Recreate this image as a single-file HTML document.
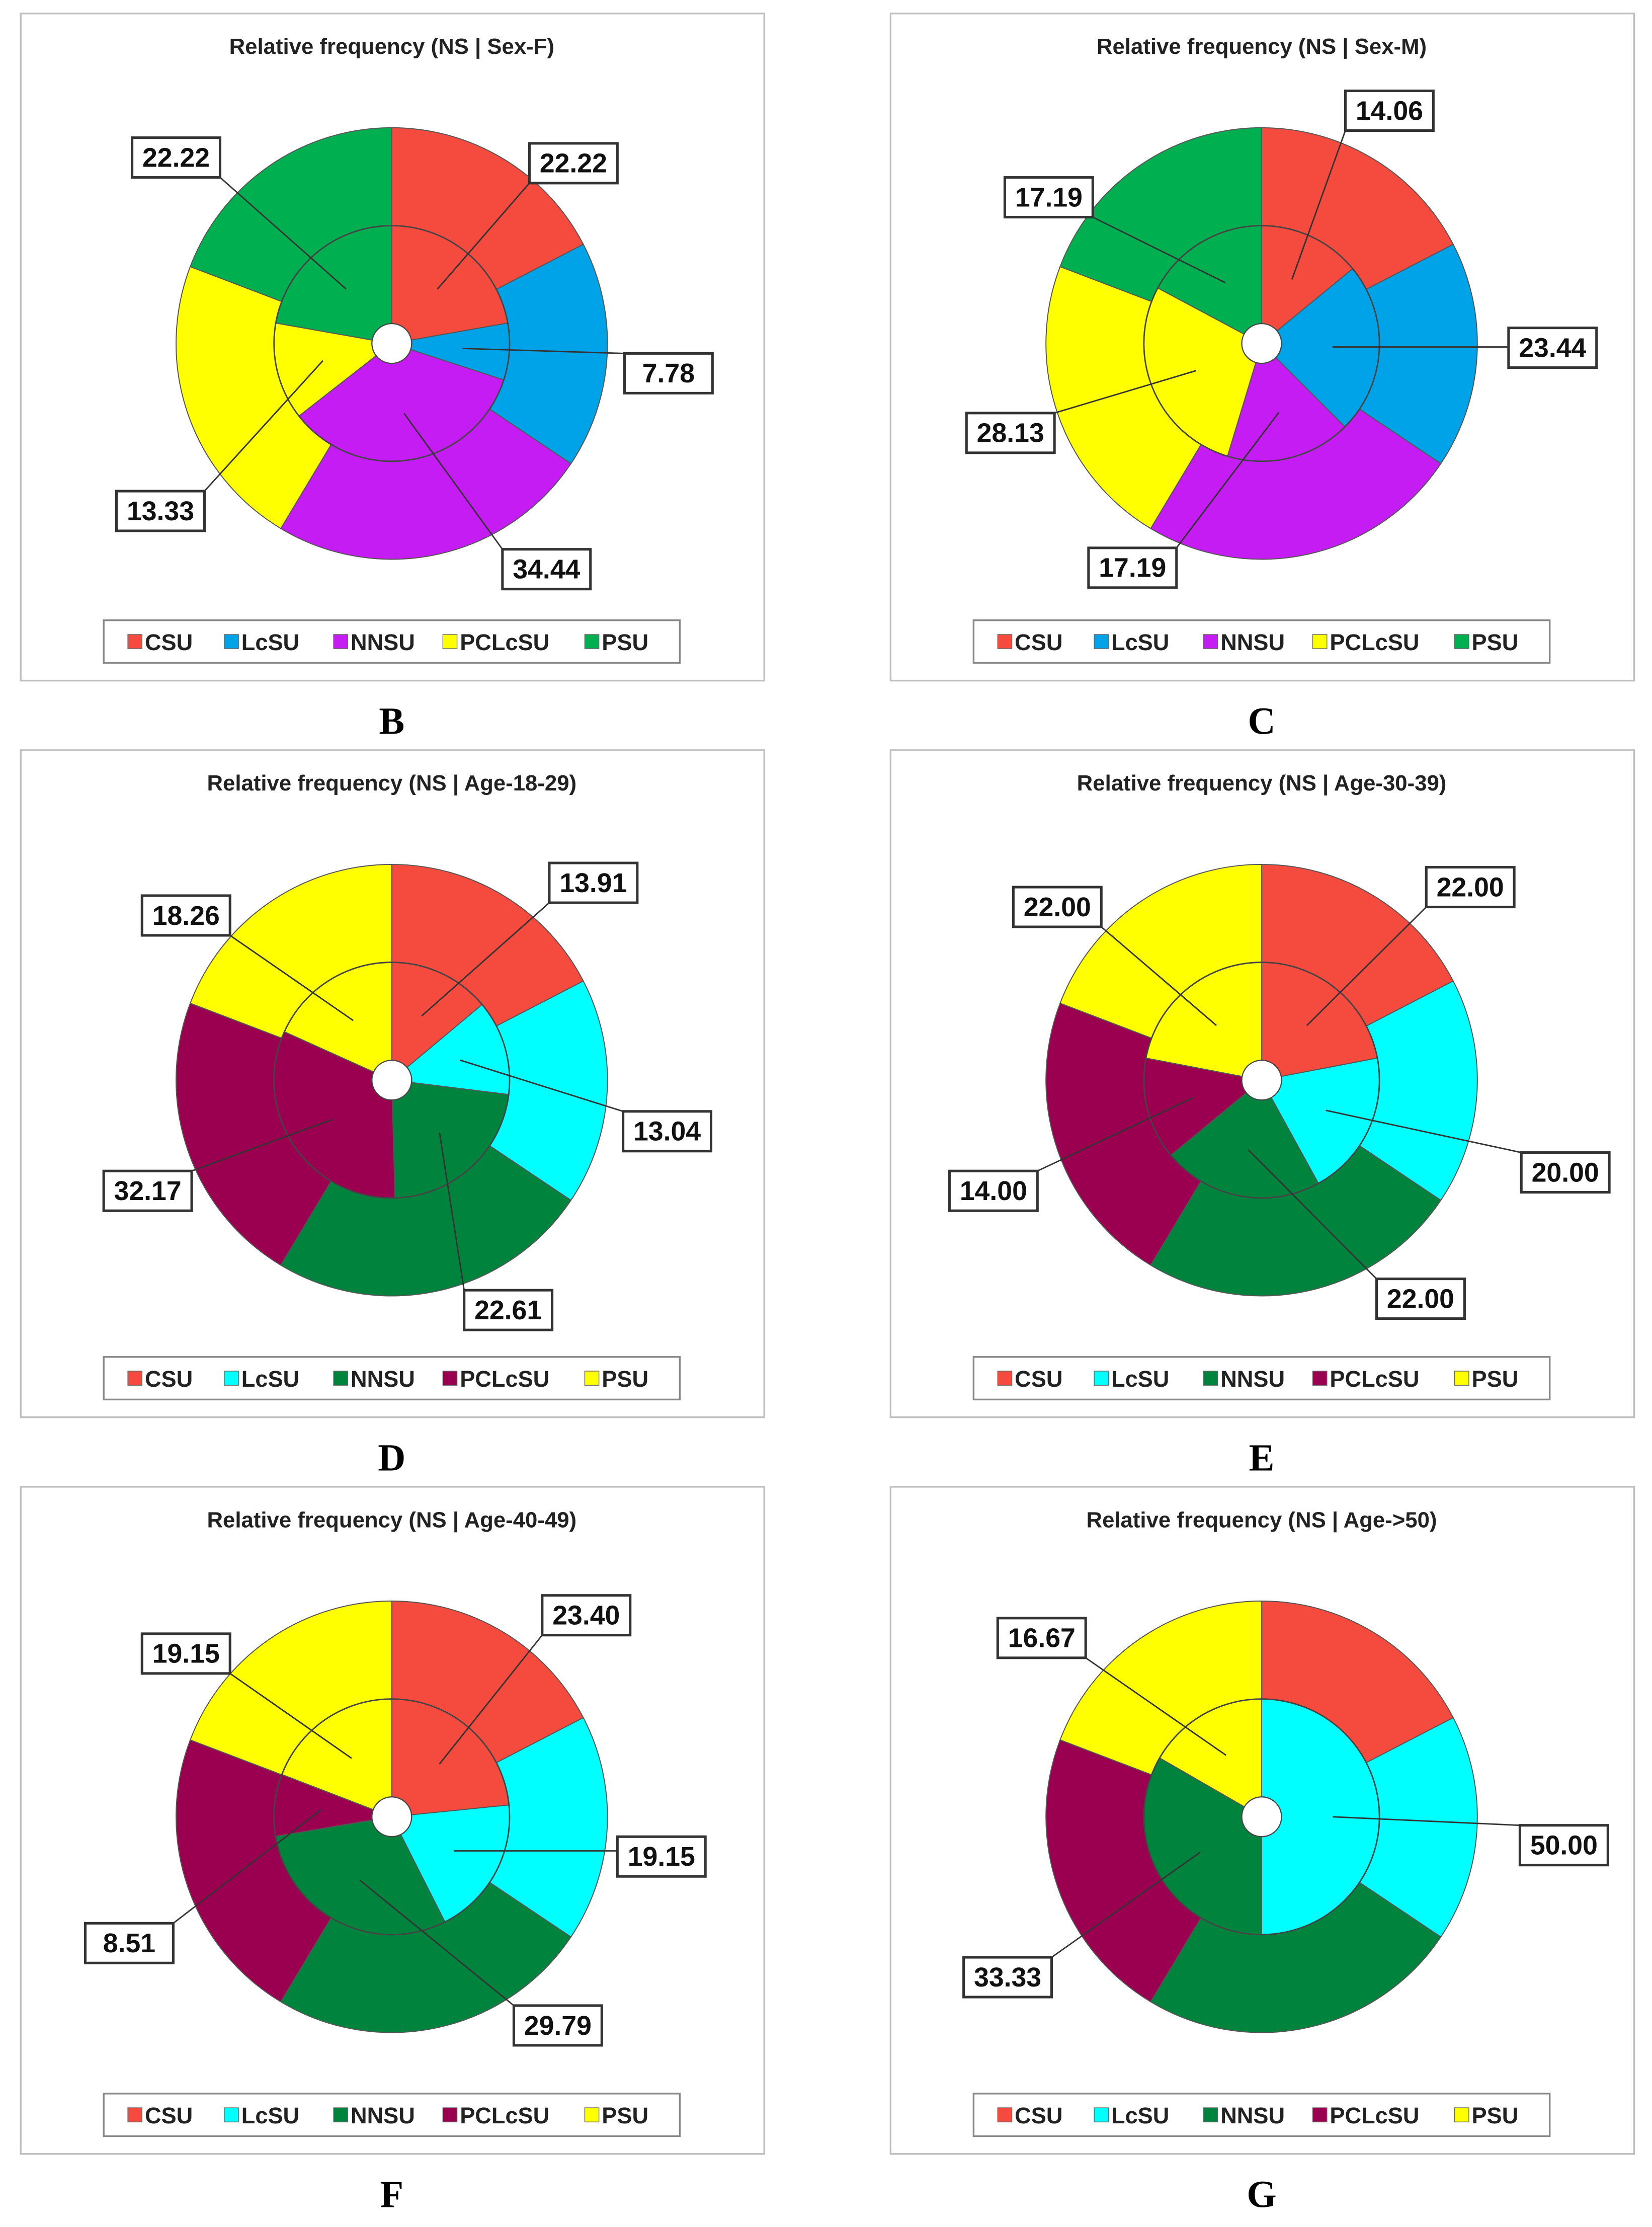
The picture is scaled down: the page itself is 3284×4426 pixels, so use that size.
<!DOCTYPE html>
<html><head><meta charset="utf-8"><style>
html,body{margin:0;padding:0;background:#fff;}
svg{display:block;}
</style></head><body>
<svg id="fig" width="3284" height="4426" viewBox="0 0 1164 1569" xmlns="http://www.w3.org/2000/svg" font-family="'Liberation Sans', Arial, sans-serif"></svg>
<script>
const categories = ["CSU","LcSU","NNSU","PCLcSU","PSU"];
const outerValues = [17.4, 17.0, 24.2, 22.2, 19.2];
const valuesB = [22.22, 7.78, 34.44, 13.33, 22.22];
const valuesC = [14.06, 23.44, 17.19, 28.13, 17.19];
const valuesD = [13.91, 13.04, 22.61, 32.17, 18.26];
const valuesE = [22.00, 20.00, 22.00, 14.00, 22.00];
const valuesF = [23.40, 19.15, 29.79, 8.51, 19.15];
const valuesG = [0, 50.00, 33.33, 0, 16.67];
const titles = ["Relative frequency (NS | Sex-F)","Relative frequency (NS | Sex-M)","Relative frequency (NS | Age-18-29)","Relative frequency (NS | Age-30-39)","Relative frequency (NS | Age-40-49)","Relative frequency (NS | Age->50)"];
const panelLetters = ["B","C","D","E","F","G"];

const colorsSex = ["#f54b3e","#00a2e8","#c41cf2","#ffff00","#00b050"];
const colorsAge = ["#f54b3e","#00ffff","#00843d","#9a004f","#ffff00"];

const NS="http://www.w3.org/2000/svg";
const svg=document.getElementById('fig');
function mk(tag,attrs,parent){const e=document.createElementNS(NS,tag);for(const k in attrs)e.setAttribute(k,attrs[k]);(parent||svg).appendChild(e);return e;}

// label box centers (layout positions, per panel, in category order; null = hidden)
const labelPos = [
 [[404,115],[471,263],[385,401],[113,360],[124,111]],
 [[979,78],[1094,245],[798,400],[712,305],[739,139]],
 [[418,622],[470,797],[358,923],[104,839],[131,645]],
 [[1036,625],[1103,826],[1001,915],[700,839],[745,639]],
 [[413,1138],[466,1308],[393,1427],[91,1369],[131,1165]],
 [null,[1102,1300],[710,1393],null,[734,1154]]
];
const panelVals=[valuesB,valuesC,valuesD,valuesE,valuesF,valuesG];

function pt(cx,cy,a,r){return [cx+r*Math.sin(a),cy-r*Math.cos(a)];}
function arcPath(cx,cy,a0,a1,r0,r1){
  const p0=pt(cx,cy,a0,r1),p1=pt(cx,cy,a1,r1),p2=pt(cx,cy,a1,r0),p3=pt(cx,cy,a0,r0);
  const large=(a1-a0)>Math.PI?1:0;
  return `M${p0[0]},${p0[1]} A${r1},${r1} 0 ${large} 1 ${p1[0]},${p1[1]} L${p2[0]},${p2[1]} A${r0},${r0} 0 ${large} 0 ${p3[0]},${p3[1]} Z`;
}
function ring(g,cx,cy,vals,r0,r1,colors,name){
  const tot=vals.reduce((a,b)=>a+b,0);let a=0;const mids=[];
  vals.forEach((v,i)=>{
    const a1=a+v/tot*2*Math.PI;
    if(v>0){
      const p=mk('path',{d:arcPath(cx,cy,a,Math.min(a1,a+2*Math.PI-1e-6),r0,r1),fill:colors[i],stroke:'#555','stroke-width':0.7},g);
      
      
    }
    mids.push((a+a1)/2);a=a1;
  });
  return mids;
}

for(let p=0;p<6;p++){
  const col=p%2,row=Math.floor(p/2);
  const ox=col===0?14:627, oy=9+row*519;
  const cx=ox+262, cy=oy+233;
  const colors=p<2?colorsSex:colorsAge;
  const g=mk('g',{});
  
  
  mk('rect',{x:ox+0.5,y:oy+0.5,width:524,height:470,fill:'#fff',stroke:'#bfbfbf','stroke-width':1.2},g);
  const t=mk('text',{x:cx,y:oy+29,'text-anchor':'middle','font-size':15.5,'font-weight':'bold',fill:'#222'},g);
  t.textContent=titles[p];
  
  
  ring(g,cx,cy,outerValues,83,152,colors,'outer-slice');
  const mids=ring(g,cx,cy,panelVals[p],14,83,colors,'inner-slice');
  mk('circle',{cx:cx,cy:cy,r:83,fill:'none',stroke:'#444','stroke-width':1},g);
  mk('circle',{cx:cx,cy:cy,r:14,fill:'#fff',stroke:'#444','stroke-width':0.8},g);
  // labels
  panelVals[p].forEach((v,i)=>{
    const lp=labelPos[p][i]; if(!lp||v<=0) return;
    const [bx,by]=lp, w=62, h=28;
    const an=pt(cx,cy,mids[i],50);
    const ex=Math.max(bx-w/2,Math.min(bx+w/2,an[0])), ey=Math.max(by-h/2,Math.min(by+h/2,an[1]));
    const ln=mk('line',{x1:an[0],y1:an[1],x2:ex,y2:ey,stroke:'#333','stroke-width':1},g);
    
    
    const r=mk('rect',{x:bx-w/2,y:by-h/2,width:w,height:h,fill:'#fff',stroke:'#333','stroke-width':1.8},g);
    
    
    const tx=mk('text',{x:bx,y:by+6.5,'text-anchor':'middle','font-size':19,'font-weight':'bold',fill:'#111'},g);
    tx.textContent=v.toFixed(2);
    
    
  });
  // legend
  const lg=mk('g',{},g);
  
  
  mk('rect',{x:ox+59,y:oy+428,width:406,height:30,fill:'#fff',stroke:'#888','stroke-width':1.2},lg);
  const lx=[76,144,221,298,398];
  categories.forEach((c,i)=>{
    const sq=mk('rect',{x:ox+lx[i],y:oy+438,width:10,height:10,fill:colors[i],stroke:'#666','stroke-width':0.5},lg);
    
    
    const lt=mk('text',{x:ox+lx[i]+12,y:oy+449,'font-size':16,'font-weight':'bold',fill:'#222'},lg);
    lt.textContent=c;
    
    
  });
  const L=mk('text',{x:cx,y:oy+508,'text-anchor':'middle','font-size':27,'font-weight':'bold','font-family':"'Liberation Serif', serif",fill:'#000'});
  L.textContent=panelLetters[p];
  
  
}
</script>
</body></html>
